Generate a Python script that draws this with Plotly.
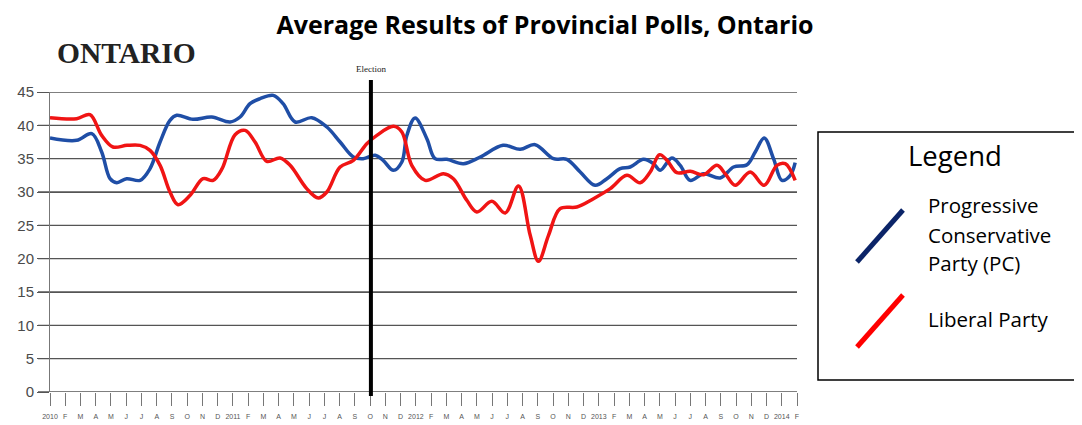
import plotly.graph_objects as go

# ---- data (month index: 0 = Jan 2010) ----
pc_month = [0.00, 1.75, 2.74, 3.39, 3.94, 4.38, 5.03, 5.91, 6.56, 7.22, 7.87, 8.31, 9.38, 10.61,
            11.81, 12.47, 13.12, 13.78, 14.65, 15.29, 16.08, 17.17, 18.16, 19.03, 19.90, 20.54,
            21.33, 21.85, 22.53, 23.08, 23.41, 23.95, 24.72, 25.26, 26.03, 27.12, 28.22, 29.72,
            30.84, 31.82, 33.03, 33.90, 34.78, 35.76, 36.53, 37.40, 38.06, 38.93, 39.59, 40.03,
            40.79, 41.34, 41.99, 42.87, 43.96, 44.84, 45.72, 46.26, 46.85, 47.46, 48.01, 48.56, 48.88]
pc_value = [38.1, 37.75, 38.75, 36.0, 32.0, 31.4, 32.0, 31.75, 33.5, 37.5, 40.75, 41.5, 40.9, 41.25,
            40.5, 41.25, 43.25, 44.0, 44.5, 43.25, 40.5, 41.15, 39.75, 37.5, 35.25, 35.0,
            35.5, 34.75, 33.25, 34.5, 38.5, 41.1, 38.0, 35.0, 34.9, 34.25, 35.25, 37.0,
            36.4, 37.1, 35.0, 34.9, 33.0, 31.0, 32.0, 33.5, 33.75, 34.9, 34.25, 33.25,
            35.1, 34.0, 31.75, 32.75, 32.1, 33.75, 34.1, 36.0, 38.1, 35.0, 31.75, 32.5, 34.4]

lib_month = [0.00, 1.75, 2.62, 3.39, 4.13, 5.05, 5.91, 6.56, 7.22, 7.87, 8.40, 9.19, 10.04, 10.70,
             11.29, 12.14, 12.80, 13.45, 14.22, 15.09, 15.75, 16.84, 17.60, 18.16, 19.03, 19.90,
             20.78, 21.44, 22.53, 23.08, 23.73, 24.61, 25.81, 26.46, 27.34, 28.00, 28.98, 29.86,
             30.73, 31.50, 32.04, 32.70, 33.46, 34.56, 35.65, 36.75, 37.84, 38.71, 39.37, 39.98,
             40.47, 41.12, 42.00, 42.87, 43.75, 44.29, 44.95, 45.93, 46.85, 47.68, 48.23, 48.88]
lib_value = [41.15, 41.0, 41.6, 38.5, 36.75, 37.0, 37.0, 36.25, 34.0, 30.0, 28.1, 29.5, 32.0, 31.75,
             33.5, 38.6, 39.25, 37.5, 34.6, 35.1, 34.0, 30.5, 29.1, 30.0, 33.75, 34.75,
             37.25, 38.5, 39.85, 39.0, 34.0, 31.75, 32.75, 32.0, 28.75, 27.0, 28.6, 26.85,
             30.9, 23.5, 19.6, 23.5, 27.5, 27.75, 29.0, 30.5, 32.5, 31.4, 33.0, 35.6,
             34.75, 32.9, 33.1, 32.6, 34.0, 32.75, 31.0, 33.0, 31.0, 34.0, 34.25, 31.75]

tick_labels = ["2010", "F", "M", "A", "M", "J", "J", "A", "S", "O", "N", "D",
               "2011", "F", "M", "A", "M", "J", "J", "A", "S", "O", "N", "D",
               "2012", "F", "M", "A", "M", "J", "J", "A", "S", "O", "N", "D",
               "2013", "F", "M", "A", "M", "J", "J", "A", "S", "O", "N", "D",
               "2014", "F"]
y_ticks = [0, 5, 10, 15, 20, 25, 30, 35, 40, 45]
election_month = 21.05

# ---- layout geometry (page pixels; the page body adds an 8px margin) ----
OFF = 8
W, H = 1082 - OFF, 425 - OFF
L, R, T, B = 50, 797, 92, 392   # plot area in page pixels


def px(xp):
    return (xp - L) / (R - L)


def py(yp):
    return (B - yp) / (B - T)


fig = go.Figure()
fig.add_trace(go.Scatter(x=pc_month, y=pc_value, mode="lines", cliponaxis=False,
                         line=dict(color="#1f4ea6", width=3.5, shape="spline", smoothing=1.0),
                         name="Progressive Conservative Party (PC)", showlegend=False))
fig.add_trace(go.Scatter(x=lib_month, y=lib_value, mode="lines", cliponaxis=False,
                         line=dict(color="#f01414", width=3.5, shape="spline", smoothing=1.0),
                         name="Liberal Party", showlegend=False))

fig.update_layout(
    width=W, height=H,
    margin=dict(l=L - OFF, r=W - (R - OFF), t=T - OFF, b=H - (B - OFF), autoexpand=False),
    paper_bgcolor="white", plot_bgcolor="white",
    showlegend=False,
    title=dict(text="<b>Average Results of Provincial Polls, Ontario</b>",
               x=(545 - OFF) / W, xanchor="center", y=1 - (25 - OFF) / H, yanchor="middle",
               font=dict(family="Open Sans", size=25, color="black")),
    xaxis=dict(range=[0, 49], tickmode="array", tickvals=list(range(len(tick_labels))),
               ticktext=tick_labels, tickangle=0, showgrid=False, zeroline=False,
               showline=False, ticks="outside", ticklen=13, tickcolor="#777", tickwidth=1,
               ticklabelstandoff=5,
               tickfont=dict(family="Liberation Sans", size=7, color="#555")),
    yaxis=dict(range=[0, 45], tickmode="array", tickvals=y_ticks, showgrid=True,
               gridcolor="#555", gridwidth=1.3, zeroline=False, showline=True,
               linecolor="#777", linewidth=1, ticks="outside", ticklen=12,
               tickcolor="#555", tickwidth=1.3,
               tickfont=dict(family="Liberation Sans", size=15, color="#4a4a4a")),
)

# gridlines extend to the left over the tick marks
for v in y_ticks:
    fig.add_shape(type="line", xref="paper", yref="y", x0=px(38), x1=1, y0=v, y1=v,
                  line=dict(color="#555", width=1.3), layer="below")

# election line
fig.add_shape(type="line", xref="x", yref="paper", x0=election_month, x1=election_month,
              y0=py(396), y1=py(80), line=dict(color="black", width=4), layer="above")
fig.add_annotation(xref="x", yref="paper", x=election_month, y=py(69), text="Election",
                   showarrow=False, xanchor="center", yanchor="middle",
                   font=dict(family="Liberation Serif", size=9, color="#222"))

# ONTARIO heading
fig.add_annotation(xref="paper", yref="paper", x=px(55), y=py(53), text="<b>ONTARIO</b>",
                   showarrow=False, xanchor="left", yanchor="middle",
                   font=dict(family="Liberation Serif", size=29.5, color="#222"))

# legend box
fig.add_shape(type="rect", xref="paper", yref="paper", x0=px(818), x1=px(1080.5),
              y0=py(380), y1=py(132), line=dict(color="black", width=1.5),
              fillcolor="white", layer="above")
fig.add_annotation(xref="paper", yref="paper", x=px(955), y=py(155), text="Legend",
                   showarrow=False, xanchor="center", yanchor="middle",
                   font=dict(family="Open Sans", size=27.5, color="black"))
fig.add_shape(type="line", xref="paper", yref="paper", x0=px(857), y0=py(262),
              x1=px(903), y1=py(210), line=dict(color="#0b2468", width=5), layer="above")
fig.add_shape(type="line", xref="paper", yref="paper", x0=px(857), y0=py(347),
              x1=px(903), y1=py(295), line=dict(color="#ff0000", width=5), layer="above")
for txt, yc in [("Progressive", 205), ("Conservative", 235), ("Party (PC)", 263),
                ("Liberal Party", 319)]:
    fig.add_annotation(xref="paper", yref="paper", x=px(926), y=py(yc), text=txt,
                       showarrow=False, xanchor="left", yanchor="middle",
                       font=dict(family="Open Sans", size=20.5, color="black"))

fig.write_html("out.html")
